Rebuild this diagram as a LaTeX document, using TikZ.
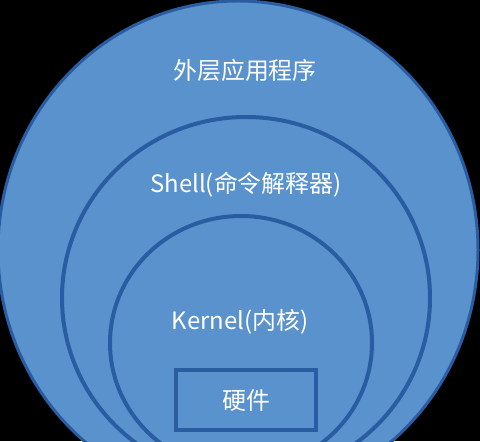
\documentclass[tikz,border=0pt]{standalone}
\usepackage{fontspec}
\setmainfont{Noto Sans CJK SC}
\definecolor{ringfill}{RGB}{89,146,204}
\definecolor{ringline}{RGB}{42,92,162}

\begin{document}
\begin{tikzpicture}[x=0.025cm,y=0.025cm,
	ring/.style={fill=ringfill,draw=ringline,line width=.1cm},
	lbl/.style={text=white,font=\fontsize{17pt}{20pt}\selectfont,inner sep=0pt}]
	\useasboundingbox (0,0) rectangle (480,441);
	\fill[black] (0,0) rectangle (480,441);
	\clip (0,0) rectangle (480,441);
	\draw[ring,line width=.075cm] (238,191) ellipse [x radius=240,y radius=249];
	\draw[ring] (246,143) ellipse [x radius=184,y radius=181];
	\draw[ring] (241,98) ellipse [x radius=131,y radius=127];
	\node[ring,minimum width=3.5cm,minimum height=1.5cm,inner sep=0pt] (hw) at (246,41) {};
	\node[lbl] (app) at (245,371) {外层应用程序};
	\node[lbl] (shell) at (246,256) {Shell(命令解释器)};
	\node[lbl] (kernel) at (240,119) {Kernel(内核)};
	\node[lbl] (hwtext) at (hw.center) {硬件};
\end{tikzpicture}
\end{document}
